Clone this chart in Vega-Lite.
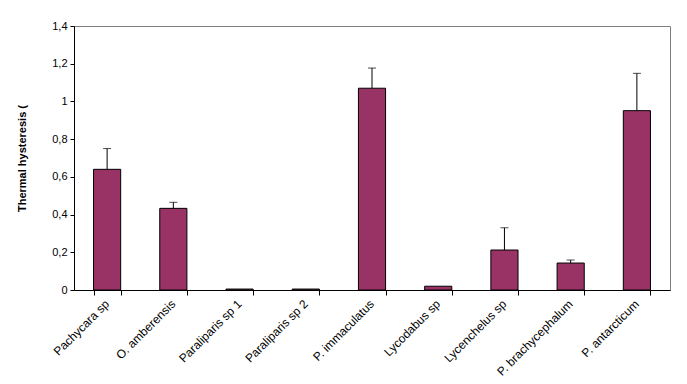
{
  "$schema": "https://vega.github.io/schema/vega-lite/v6.json",
  "autosize": "none",
  "width": 596,
  "height": 264,
  "padding": {"left": 74, "top": 26, "right": 17, "bottom": 94},
  "background": "white",
  "config": {
    "font": "Liberation Sans",
    "view": {"stroke": "#808080", "strokeWidth": 1},
    "axis": {"labelFont": "Liberation Sans", "titleFont": "Liberation Sans", "labelColor": "black", "domainColor": "black", "tickColor": "black", "grid": false, "labelOverlap": false, "labelBound": false, "labelFlush": false}
  },
  "data": {
    "values": [
      {"species": "Pachycara sp", "value": 0.64, "upper": 0.75},
      {"species": "O. amberensis", "value": 0.433, "upper": 0.465},
      {"species": "Paraliparis sp 1", "value": 0.005, "upper": null},
      {"species": "Paraliparis sp 2", "value": 0.005, "upper": null},
      {"species": "P. immaculatus", "value": 1.07, "upper": 1.177},
      {"species": "Lycodabus sp", "value": 0.02, "upper": null},
      {"species": "Lycenchelus sp", "value": 0.212, "upper": 0.33},
      {"species": "P. brachycephalum", "value": 0.143, "upper": 0.159},
      {"species": "P. antarcticum", "value": 0.951, "upper": 1.149}
    ]
  },
  "encoding": {
    "x": {
      "field": "species", "type": "nominal", "sort": null,
      "scale": {"paddingInner": 0.59, "paddingOuter": 0.295},
      "axis": {"title": null, "labelAngle": -45, "labelAlign": "right", "labelBaseline": "top", "labelFontSize": 12, "labelOffset": -4, "tickBand": "extent", "tickSize": 5, "labelPadding": 3, "domainWidth": 1}
    },
    "y": {
      "field": "value", "type": "quantitative",
      "scale": {"domain": [0, 1.4], "nice": false},
      "axis": {"title": "Thermal hysteresis (", "titleFontSize": 11, "titleFontWeight": "bold", "titlePadding": 24, "labelFontSize": 11, "values": [0, 0.2, 0.4, 0.6, 0.8, 1, 1.2, 1.4], "labelExpr": "replace(format(datum.value, ''), '.', ',')", "tickSize": 4, "labelPadding": 3}
    }
  },
  "layer": [
    {
      "mark": {"type": "bar", "color": "#993366", "stroke": "black", "strokeWidth": 1}
    },
    {
      "transform": [{"filter": "datum.upper != null"}],
      "mark": {"type": "rule", "color": "black", "strokeWidth": 1},
      "encoding": {"y2": {"field": "upper"}}
    },
    {
      "transform": [{"filter": "datum.upper != null"}],
      "mark": {"type": "tick", "color": "black", "thickness": 1, "size": 8, "orient": "horizontal"},
      "encoding": {
        "y": {
          "field": "upper", "type": "quantitative",
          "scale": {"domain": [0, 1.4], "nice": false},
          "axis": {"title": "Thermal hysteresis (", "titleFontSize": 11, "titleFontWeight": "bold", "titlePadding": 24, "labelFontSize": 11, "values": [0, 0.2, 0.4, 0.6, 0.8, 1, 1.2, 1.4], "labelExpr": "replace(format(datum.value, ''), '.', ',')", "tickSize": 4, "labelPadding": 3}
        }
      }
    }
  ]
}
